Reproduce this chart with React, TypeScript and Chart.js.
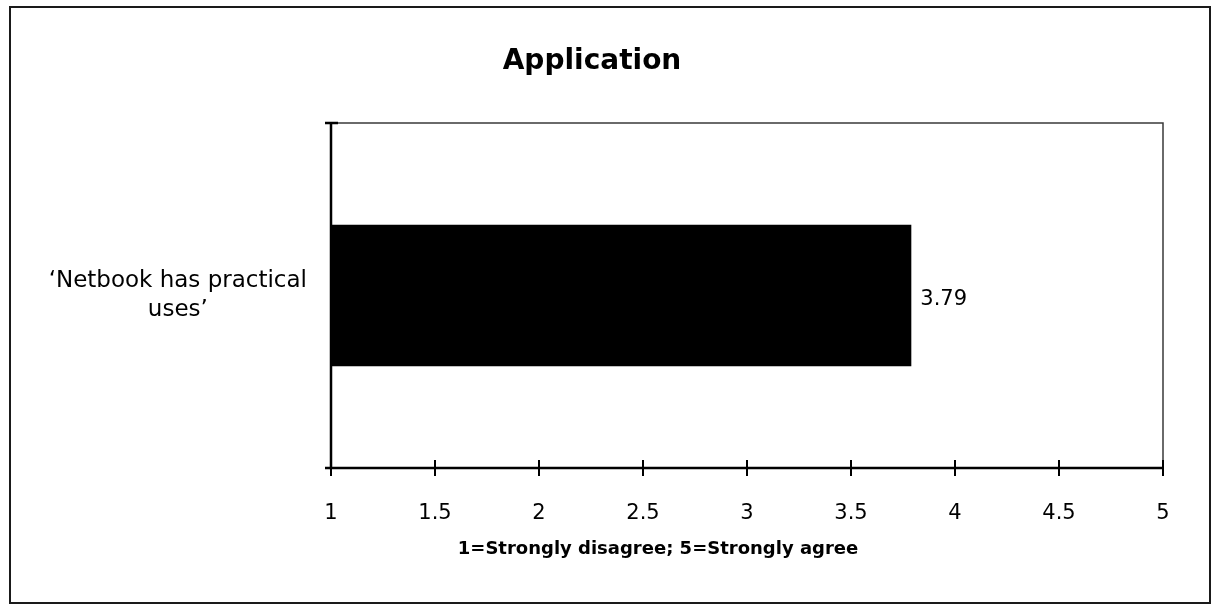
import React, { useEffect, useRef } from "react";
import { Chart, registerables } from "chart.js";

Chart.register(...registerables);

// ---- data ----
const categories: string[][] = [["‘Netbook has practical", "uses’"]];
const values: number[] = [3.79];
const valueLabels: string[] = ["3.79"];
const xTickMin = 1;
const xTickMax = 5;
const xTickStep = 0.5;
const chartTitle = "Application";
const xAxisTitle = "1=Strongly disagree; 5=Strongly agree";

const FONT = "'DejaVu Sans', 'Liberation Sans', sans-serif";

const framePlugin = {
  id: "frameAndLabels",
  afterDatasetsDraw(chart: any) {
    const ctx = chart.ctx as CanvasRenderingContext2D;
    const area = chart.chartArea;
    const xs = chart.scales.x;
    ctx.save();
    // plot frame (top & right), thin dark gray
    ctx.strokeStyle = "#3a3a3a";
    ctx.lineWidth = 1.5;
    ctx.beginPath();
    ctx.moveTo(area.left, area.top);
    ctx.lineTo(area.right, area.top);
    ctx.lineTo(area.right, area.bottom);
    ctx.stroke();

    // axes
    ctx.strokeStyle = "#000";
    ctx.lineWidth = 2.5;
    ctx.beginPath();
    ctx.moveTo(area.left, area.top);
    ctx.lineTo(area.left, area.bottom);
    ctx.lineTo(area.right, area.bottom);
    ctx.stroke();

    // category boundary ticks (crossing the value axis)
    ctx.beginPath();
    ctx.moveTo(area.left - 6, area.top);
    ctx.lineTo(area.left + 7, area.top);
    ctx.moveTo(area.left - 6, area.bottom);
    ctx.lineTo(area.left, area.bottom);
    ctx.stroke();

    // value ticks crossing the x axis
    ctx.lineWidth = 2;
    ctx.beginPath();
    xs.ticks.forEach((t: any) => {
      const px = xs.getPixelForValue(t.value);
      ctx.moveTo(px, area.bottom - 8);
      ctx.lineTo(px, area.bottom + 8);
    });
    ctx.stroke();

    // value labels
    ctx.fillStyle = "#000";
    ctx.font = `21px ${FONT}`;
    ctx.textAlign = "left";
    ctx.textBaseline = "middle";
    const meta = chart.getDatasetMeta(0);
    meta.data.forEach((bar: any, i: number) => {
      const p = bar.getProps(["x", "y"], true);
      ctx.fillText(valueLabels[i], p.x + 9, p.y + 4);
    });

    // x axis title
    ctx.font = `bold 18px ${FONT}`;
    ctx.textAlign = "center";
    ctx.textBaseline = "alphabetic";
    ctx.fillText(xAxisTitle, 658, 554);
    ctx.restore();
  },
};

export default function App() {
  const canvasRef = useRef<HTMLCanvasElement | null>(null);

  useEffect(() => {
    if (!canvasRef.current) return;
    const chart = new Chart(canvasRef.current, {
      type: "bar",
      data: {
        labels: categories as any,
        datasets: [
          {
            data: values,
            backgroundColor: "#000",
            borderWidth: 0,
            categoryPercentage: 1,
            barPercentage: 0.41,
          },
        ],
      },
      options: {
        indexAxis: "y",
        responsive: false,
        animation: false,
        events: [],
        devicePixelRatio: 1,
        layout: { padding: { left: 21, right: 52, top: 0, bottom: 0 } },
        plugins: {
          legend: { display: false },
          tooltip: { enabled: false },
          title: {
            display: true,
            text: chartTitle,
            color: "#000",
            font: { family: FONT, size: 28, weight: "bold", lineHeight: 1.2 },
            padding: { top: 45, bottom: 44.4 },
          },
        },
        scales: {
          x: {
            type: "linear",
            min: xTickMin,
            max: xTickMax,
            grid: { display: false, drawTicks: false },
            border: { display: false },
            ticks: {
              stepSize: xTickStep,
              padding: 33,
              color: "#000",
              font: { family: FONT, size: 21 },
              maxRotation: 0,
              autoSkip: false,
              callback: (v: any) => String(Number(v)),
            },
            afterFit: (s: any) => {
              s.height = 137;
            },
          },
          y: {
            type: "category",
            grid: { display: false, drawTicks: false },
            border: { display: false },
            ticks: {
              padding: 24,
              crossAlign: "center",
              color: "#000",
              font: { family: FONT, size: 23, lineHeight: 1.25 },
            },
            afterFit: (s: any) => {
              s.width = 310;
            },
          },
        },
      },
      plugins: [framePlugin],
    } as any);
    return () => chart.destroy();
  }, []);

  return (
    <div
      style={{
        position: "fixed",
        left: 0,
        top: 0,
        width: 1215,
        height: 605,
        background: "#fff",
      }}
    >
      <canvas
        ref={canvasRef}
        width={1215}
        height={605}
        style={{ position: "absolute", left: 0, top: 0, width: 1215, height: 605 }}
      />
      <div
        style={{
          position: "absolute",
          left: 9,
          top: 6,
          width: 1202,
          height: 598,
          boxSizing: "border-box",
          border: "2px solid #1a1a1a",
          pointerEvents: "none",
        }}
      />
    </div>
  );
}
